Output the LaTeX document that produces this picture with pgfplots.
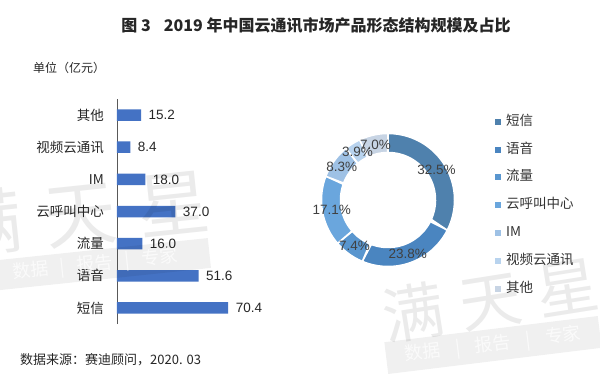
\documentclass[border=0pt]{standalone}
\usepackage{pgfplots}
\pgfplotsset{compat=1.18}
\usepackage{fontspec}
\setmainfont{Noto Sans CJK SC}
\newfontfamily\lat{Liberation Sans}
\definecolor{barblue}{HTML}{4472C4}
\definecolor{cA}{HTML}{4F81AD}
\definecolor{cB}{HTML}{4A85C0}
\definecolor{cC}{HTML}{5996CF}
\definecolor{cD}{HTML}{6AA6DD}
\definecolor{cE}{HTML}{9EC1E5}
\definecolor{cF}{HTML}{B8D3EE}
\definecolor{cG}{HTML}{C7D4E4}
\definecolor{txt}{HTML}{262626}
\newcommand{\slice}[4]{%
\addplot[fill=#3, draw=white, line width=1.5pt, domain=0:2, samples=81, variable=\t]
 ({ifthenelse(\t<=1, 66.5*cos(90-3.6*(#1+(#2-#1)*\t)), 47.5*cos(90-3.6*(#2-(#2-#1)*(\t-1))))},
  {ifthenelse(\t<=1, 66.5*sin(90-3.6*(#1+(#2-#1)*\t)), 47.5*sin(90-3.6*(#2-(#2-#1)*(\t-1))))}) -- cycle;
\addlegendentry{#4}}
\newcommand{\pct}[2]{\node[font=\lat\fontsize{13.5}{15}\selectfont, text=black!75, inner sep=0pt] at (axis cs:{57*cos(90-3.6*#1)},{57*sin(90-3.6*#1)}) {#2};}
\begin{document}
\begin{tikzpicture}[x=1pt,y=1pt]
\path[use as bounding box, fill=white] (0,0) rectangle (600,384);
\node[font=\bfseries\fontsize{16}{18}\selectfont, text=txt] at (316,359) {图 3\hspace{13pt}2019 年中国云通讯市场产品形态结构规模及占比};
\node[anchor=west, inner sep=0pt, font=\fontsize{12}{14}\selectfont, text=txt] at (33,316) {单位（亿元）};
\node[anchor=west, inner sep=0pt, font=\fontsize{13}{15}\selectfont, text=txt] at (20,24) {数据来源：赛迪顾问，2020. 03};
\begin{axis}[at={(117pt,60pt)}, anchor=south west, scale only axis,
  width=158pt, height=225pt, xmin=0, xmax=100, ymin=-0.5, ymax=6.5,
  xbar, bar width=11.5pt, hide x axis, axis y line*=left,
  y axis line style={color=black!65, line width=0.8pt, -},
  ytick={0,...,6}, yticklabels={短信,语音,流量,云呼叫中心,IM,视频云通讯,其他},
  major tick length=0pt,
  yticklabel style={font=\fontsize{13.5}{15}\selectfont, text=txt, inner sep=0pt, xshift=-13pt},
  nodes near coords, nodes near coords align=horizontal,
  every node near coord/.append style={font=\lat\fontsize{13.5}{15}\selectfont, text=txt, xshift=4pt},
  /pgf/number format/assume math mode=true,
  /pgf/number format/fixed, /pgf/number format/fixed zerofill, /pgf/number format/precision=1,
  clip=false]
\addplot[fill=barblue, draw=none] coordinates {(70.4,0) (51.6,1) (16.0,2) (37.0,3) (18.0,4) (8.4,5) (15.2,6)};
\end{axis}
\begin{axis}[at={(318pt,114pt)}, anchor=south west, scale only axis,
  width=140pt, height=140pt, xmin=-70, xmax=70, ymin=-70, ymax=70,
  hide axis, clip=false,
  legend style={draw=none, fill=none, at={(1.264,1.107)}, anchor=north west, inner sep=0pt,
    font=\fontsize{13.5}{15}\selectfont, text=black!80, row sep=14.8pt,
    nodes={inner sep=0pt, text height=10pt, text depth=3pt},
    /tikz/every odd column/.append style={column sep=5pt}},
  legend cell align=left,
  legend image code/.code={\path[#1, draw=none] (0pt,-3pt) rectangle (6pt,3pt);}]
\slice{0}{32.5}{cA}{短信}
\slice{32.5}{56.3}{cB}{语音}
\slice{56.3}{63.7}{cC}{流量}
\slice{63.7}{80.8}{cD}{云呼叫中心}
\slice{80.8}{89.1}{cE}{IM}
\slice{89.1}{93.0}{cF}{视频云通讯}
\slice{93.0}{100}{cG}{其他}
\pct{16.25}{32.5\%}
\pct{44.4}{23.8\%}
\pct{60.0}{7.4\%}
\pct{72.25}{17.1\%}
\pct{84.95}{8.3\%}
\pct{91.05}{3.9\%}
\pct{96.5}{7.0\%}
\end{axis}
% watermarks
\node[rotate=6, font=\fontsize{72}{72}\selectfont, text=black, opacity=0.08, inner sep=0pt] at (80,171) {满\hspace{22pt}天\hspace{22pt}星};
\node[rotate=6, fill=black, fill opacity=0.06, text=white, text opacity=0.7, font=\fontsize{18}{18}\selectfont, minimum width=230pt, minimum height=30pt, inner sep=0pt] at (95,119) {数据\hspace{12pt}|\hspace{12pt}报告\hspace{12pt}|\hspace{12pt}专家};
\node[rotate=9, font=\fontsize{62}{62}\selectfont, text=black, opacity=0.08, inner sep=0pt] at (490,84) {满\hspace{16pt}天\hspace{16pt}星};
\node[rotate=7, fill=black, fill opacity=0.06, text=white, text opacity=0.7, font=\fontsize{18}{18}\selectfont, minimum width=215pt, minimum height=32pt, inner sep=0pt] at (493,39) {数据\hspace{15pt}|\hspace{15pt}报告\hspace{15pt}|\hspace{15pt}专家};
\end{tikzpicture}
\end{document}
